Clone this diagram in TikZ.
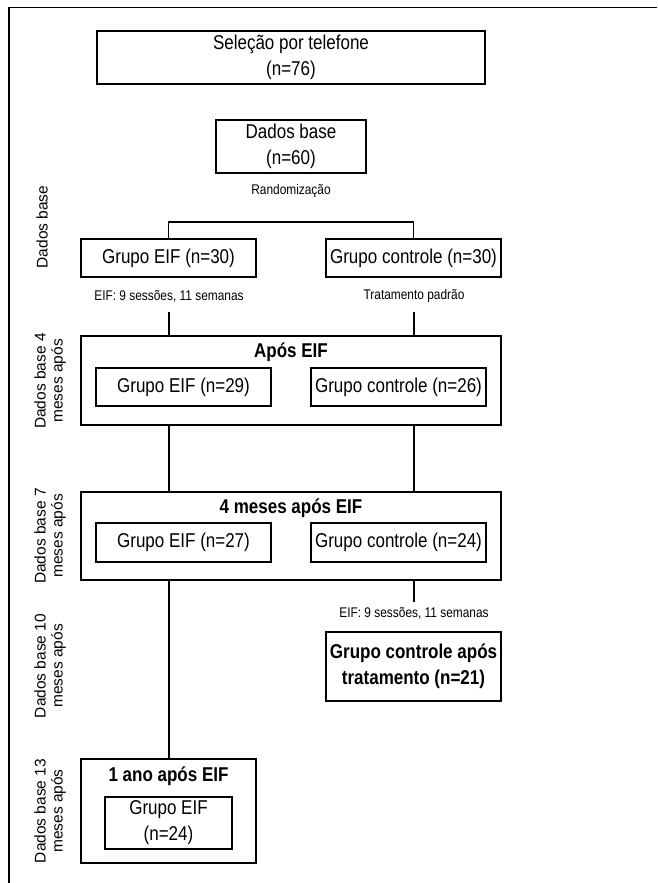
\documentclass[tikz,border=0pt]{standalone}
\usepackage{fontspec}
\setmainfont{Liberation Sans}[FakeStretch=0.85]
\newfontfamily\sidefont{Liberation Sans}
\begin{document}
\begin{tikzpicture}[x=1pt,y=-1pt,
  every node/.style={inner sep=0pt,outer sep=0pt},
  boxx/.style={draw,line width=1.1pt,align=center,font=\fontsize{20}{26}\selectfont},
  small/.style={font=\fontsize{14}{17}\selectfont},
  titl/.style={font=\fontsize{20}{26}\selectfont\bfseries},
  side/.style={rotate=90,align=center,font=\sidefont\fontsize{15.5}{17}\selectfont},
  conn/.style={line width=1.1pt}]
\useasboundingbox (0,0) rectangle (657,883);
\draw[line width=1.1pt] (657,7.5) -- (9,7.5) -- (9,883);

% side labels
\node[side] (s0) at (42,227) {Dados base};
\node[side] (s1) at (50,381) {Dados base 4\\meses após};
\node[side] (s2) at (50,536) {Dados base 7\\meses após};
\node[side] (s3) at (50,666) {Dados base 10\\meses após};
\node[side] (s4) at (50,811) {Dados base 13\\meses após};

% top boxes
\node[boxx,minimum width=388,minimum height=53] (sel) at (291,57.5) {Seleção por telefone\\(n=76)};
\node[boxx,minimum width=150,minimum height=53] (base) at (291,146.5) {Dados base\\(n=60)};
\node[small] (rand) at (291,191) {Randomização};

\node[boxx,minimum width=175,minimum height=38] (g1) at (168.5,258) {Grupo EIF (n=30)};
\node[boxx,minimum width=175,minimum height=38] (g2) at (413.5,258) {Grupo controle (n=30)};
\draw[conn] (g1.north) -- ++(0,-17) -| (g2.north);

\node[small] (lab1) at (169,296) {EIF: 9 sessões, 11 semanas};
\node[small] (lab2) at (414,296) {Tratamento padrão};
\coordinate (c1) at (169,312);
\coordinate (c2) at (414,312);

% Após EIF
\node[boxx,minimum width=420,minimum height=89] (A) at (291,380.5) {};
\node[titl] (At) at (291,352) {Após EIF};
\node[boxx,minimum width=175,minimum height=38] (A1) at (183.5,387) {Grupo EIF (n=29)};
\node[boxx,minimum width=175,minimum height=38] (A2) at (398.5,387) {Grupo controle (n=26)};
\draw[conn] (c1) -- (c1 |- A.north);
\draw[conn] (c2) -- (c2 |- A.north);

% 4 meses após EIF
\node[boxx,minimum width=420,minimum height=88] (B) at (291,536) {};
\node[titl] (Bt) at (291,508) {4 meses após EIF};
\node[boxx,minimum width=175,minimum height=39] (B1) at (183.5,542.5) {Grupo EIF (n=27)};
\node[boxx,minimum width=175,minimum height=39] (B2) at (398.5,542.5) {Grupo controle (n=24)};
\draw[conn] (A.south -| c1) -- (B.north -| c1);
\draw[conn] (A.south -| c2) -- (B.north -| c2);

% control after treatment
\coordinate (c3) at (414,602);
\draw[conn] (B.south -| c2) -- (c3);
\node[small] (lab3) at (414,613) {EIF: 9 sessões, 11 semanas};
\node[boxx,minimum width=175,minimum height=69,font=\fontsize{20}{26}\selectfont\bfseries] (D) at (413.5,666.5) {Grupo controle após\\tratamento (n=21)};

% 1 ano
\node[boxx,minimum width=175,minimum height=104] (C) at (168.5,811) {};
\node[titl] (Ct) at (168.5,776) {1 ano após EIF};
\node[boxx,minimum width=127,minimum height=52] (C1) at (168.5,823) {Grupo EIF\\(n=24)};
\draw[conn] (B.south -| c1) -- (C.north -| c1);
\end{tikzpicture}
\end{document}
